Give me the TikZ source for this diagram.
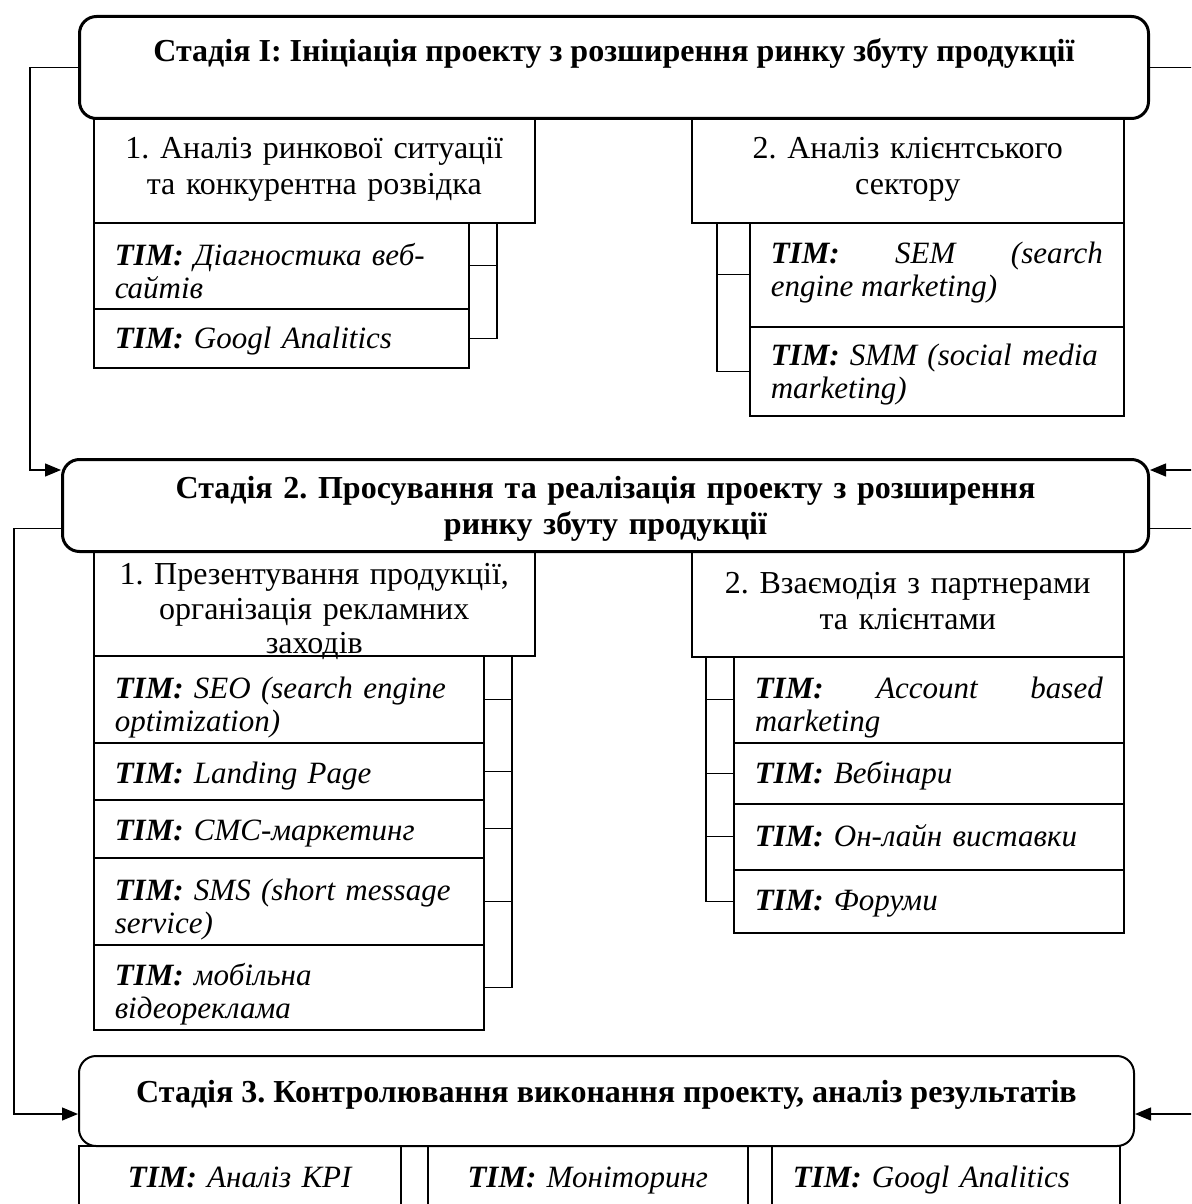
\documentclass[tikz,border=0pt]{standalone}
\usepackage{fontspec}
\setmainfont{Liberation Serif}
\usetikzlibrary{arrows.meta}
\frenchspacing
\newcommand{\timfont}{\fontsize{31}{33}\selectfont\itshape\hyphenpenalty=10000\relax}

\begin{document}
\begin{tikzpicture}[x=1pt,y=-1pt,
  stage/.style={draw, line width=3pt, rounded corners=17pt, anchor=north west,
    inner sep=0pt, font=\fontsize{32}{36}\selectfont\bfseries},
  sub/.style={draw, line width=1.5pt, anchor=north west, inner xsep=10pt,
    inner ysep=0pt, align=center, text height=41pt, font=\fontsize{32}{36}\selectfont},
  tim/.style={draw, line width=1.5pt, anchor=north west, inner xsep=21pt,
    inner ysep=0pt, align=left, text height=41pt, font=\timfont},
  link/.style={line width=1.3pt},
  arr/.style={link, -{Triangle[length=16pt,width=13pt]}}]
  \useasboundingbox (0,0) rectangle (1191,1204);
  \clip (0,0) rectangle (1191,1204);
  % Хід ліній
  \coordinate (b1) at (497,0);
  \coordinate (b2) at (717,0);
  \coordinate (b3) at (512,0);
  \coordinate (b4) at (706,0);
  \coordinate (lo1) at (30,0);
  \coordinate (lo2) at (14,0);
  \coordinate (ro) at (1200,0);
  % Стадія 1
  \node[stage, minimum width=1069pt, text height=45pt, text depth=57pt] (st1) at (78,15)
    {Стадія I: Ініціація проекту з розширення ринку збуту продукції};
  \node[sub, text width=421pt, text depth=64pt] (s1) at (93,117)
    {1. Аналіз ринкової ситуації\\та конкурентна розвідка};
  \node[sub, text width=412pt, text depth=64pt] (s2) at (691,117)
    {2. Аналіз клієнтського\\сектору};
  \node[tim, text width=333pt, text height=43pt, text depth=43pt] (tA) at (93,222)
    {\textbf{TIM:} Діагностика веб-\\сайтів};
  \node[tim, text width=333pt, text height=40pt, text depth=19pt] (tB) at (93,308)
    {\textbf{TIM:} Googl Analitics};
  \node[tim, align=justify, text width=332pt, text depth=63pt] (tC) at (749,222)
    {\textbf{TIM:} SEM (search\linebreak engine marketing)};
  \node[tim, text width=332pt, text height=39pt, text depth=50pt] (tD) at (749,326)
    {\textbf{TIM:} SMM (social media\\marketing)};
  % Стадія 2
  \node[stage, text width=1000pt, align=center, inner xsep=43pt, text height=39pt,
    text depth=53pt] (st2) at (61,458)
    {Стадія 2. Просування та реалізація проекту з розширення\\ринку збуту продукції};
  \node[sub, text width=421pt, text height=34pt, text depth=71pt,
    font=\fontsize{32}{34.5}\selectfont] (s3) at (93,550)
    {1. Презентування продукції,\\організація рекламних\\заходів};
  \node[sub, text width=412pt, text height=43pt, text depth=63pt] (s4) at (691,550)
    {2. Взаємодія з партнерами\\та клієнтами};
  \node[tim, text width=348pt, text height=43pt, text depth=44pt] (tE) at (93,655)
    {\textbf{TIM:} SEO (search engine\\optimization)};
  \node[tim, text width=348pt, text depth=16pt] (tF) at (93,742)
    {\textbf{TIM:} Landing Page};
  \node[tim, text width=348pt, text depth=17pt] (tG) at (93,799)
    {\textbf{TIM:} СМС-маркетинг};
  \node[tim, text width=348pt, text height=43pt, text depth=44pt] (tH) at (93,857)
    {\textbf{TIM:} SMS (short message\\service)};
  \node[tim, text width=348pt, text depth=44pt] (tI) at (93,944)
    {\textbf{TIM:} мобільна\\відеореклама};
  \node[tim, align=justify, text width=348pt, text height=42pt, text depth=44pt] (tJ) at (733,656)
    {\textbf{TIM:} Account based\linebreak marketing};
  \node[tim, text width=348pt, text depth=20pt] (tK) at (733,742)
    {\textbf{TIM:} Вебінари};
  \node[tim, text width=348pt, text height=43pt, text depth=23pt] (tL) at (733,803)
    {\textbf{TIM:} Он-лайн виставки};
  \node[tim, text width=348pt, text depth=22pt] (tM) at (733,869)
    {\textbf{TIM:} Форуми};
  % Стадія 3
  \node[stage, line width=2pt, minimum width=1055pt, text height=46pt, text depth=44pt] (st3) at (78,1055)
    {Стадія 3. Контролювання виконання проекту, аналіз результатів};
  \node[tim, align=center, text width=280pt, text height=42pt, text depth=40pt] (tN) at (78,1145)
    {\textbf{TIM:} Аналіз KPI};
  \node[tim, align=center, text width=278pt, text height=42pt, text depth=40pt] (tO) at (427,1145)
    {\textbf{TIM:} Моніторинг};
  \node[tim, text width=306pt, text height=42pt, text depth=40pt] (tP) at (771,1145)
    {\textbf{TIM:} Googl Analitics};
  % Дужки
  \draw[link] (s1.south -| b1) |- (tB.east);
  \draw[link] (tA.east) -- (tA.east -| b1);
  \draw[link] (s2.south -| b2) |- (tD.west);
  \draw[link] (tC.west) -- (tC.west -| b2);
  \draw[link] (s3.south -| b3) |- (tI.east);
  \draw[link] (tE.east) -- (tE.east -| b3);
  \draw[link] (tF.east) -- (tF.east -| b3);
  \draw[link] (tG.east) -- (tG.east -| b3);
  \draw[link] (tH.east) -- (tH.east -| b3);
  \draw[link] (s4.south -| b4) |- (tM.west);
  \draw[link] (tJ.west) -- (tJ.west -| b4);
  \draw[link] (tK.west) -- (tK.west -| b4);
  \draw[link] (tL.west) -- (tL.west -| b4);
  % Зворотні зв'язки
  \draw[arr] (st1.west) -- (st1.west -| lo1) |- ([yshift=-12pt]st2.north west);
  \draw[arr] ([yshift=-23pt]st2.west) -- ([yshift=-23pt]st2.west -| lo2) |- ([yshift=-13pt]st3.west);
  \draw[arr] (st1.east) -- (st1.east -| ro) |- ([yshift=-12pt]st2.north east);
  \draw[arr] ([yshift=-23pt]st2.east) -- ([yshift=-23pt]st2.east -| ro) |- ([yshift=-13pt]st3.east);
\end{tikzpicture}
\end{document}
